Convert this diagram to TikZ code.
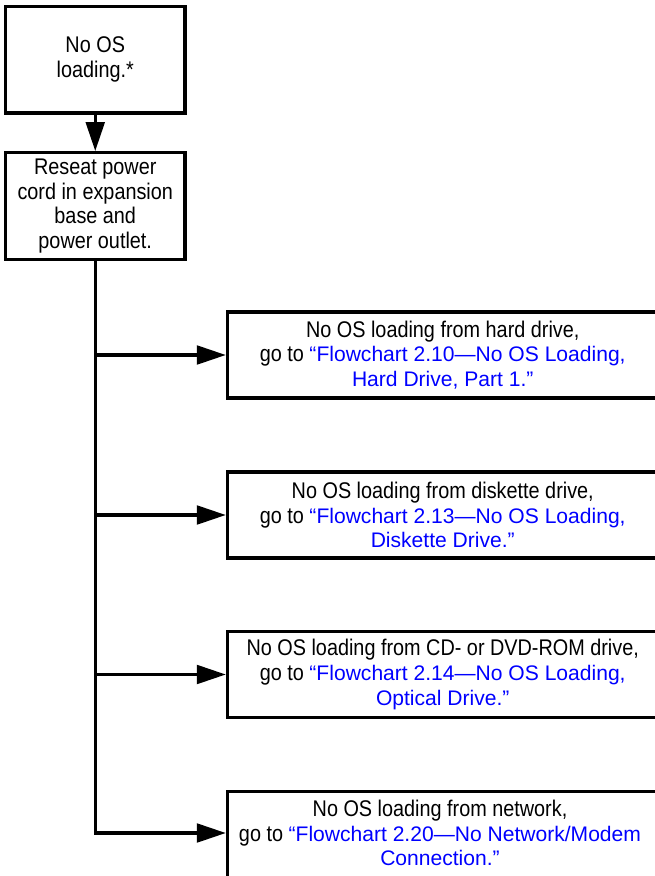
\documentclass[tikz,border=0pt]{standalone}
\usepackage{fontspec}
\setmainfont[FakeStretch=0.875]{Liberation Sans}
\newfontfamily\lnkfont{Liberation Sans}
\usetikzlibrary{arrows.meta}

\definecolor{linkblue}{RGB}{0,0,255}
\newcommand{\lnk}[1]{{\lnkfont\fontsize{15.8}{18.5}\selectfont\textcolor{linkblue}{#1}}}

\tikzset{
  txt/.style={align=center, inner sep=0pt, font=\fontsize{17}{18.5}\selectfont},
  box/.style={txt, draw, line width=2.4pt, minimum width=134.6pt, minimum height=80pt},
  rbox/.style={box, minimum width=323pt, minimum height=64.5pt},
  flow/.style={line width=2.4pt, -{Triangle[length=21.75pt,width=14pt]}},
}

\begin{document}
\begin{tikzpicture}[x=0.75pt,y=-0.75pt]
\useasboundingbox (0,0) rectangle (655,876);
\clip (0,0) rectangle (655,876);

\node[box] (noos) at (95.25,59.75) {No OS\\loading.*};
\node[box] (reseat) at (95.25,206) {Reseat power\\cord in expansion\\base and\\power outlet.};

\node[rbox] (hard) at (442.75,355) {No OS loading from hard drive,\\go to \lnk{“Flowchart 2.10—No OS Loading,}\\\lnk{Hard Drive, Part 1.”}};
\node[rbox] (disk) at (442.75,515) {No OS loading from diskette drive,\\go to \lnk{“Flowchart 2.13—No OS Loading,}\\\lnk{Diskette Drive.”}};
\node[rbox] (optical) at (442.75,674.5) {No OS loading from CD- or DVD-ROM drive,\\go to \lnk{“Flowchart 2.14—No OS Loading,}\\\lnk{Optical Drive.”}};
\node[rbox, minimum height=81.4pt] (net) at (442.75,845.75) {};
\node[txt] (nettext) at (440,833) {No OS loading from network,\\go to \lnk{“Flowchart 2.20—No Network/Modem}\\\lnk{Connection.”}};

\draw[flow] (noos) -- (reseat);
\draw[flow] (reseat.south) |- (net.west |- nettext);
\draw[flow] (reseat.south |- hard.west) -- (hard.west);
\draw[flow] (reseat.south |- disk.west) -- (disk.west);
\draw[flow] (reseat.south |- optical.west) -- (optical.west);
\end{tikzpicture}
\end{document}
